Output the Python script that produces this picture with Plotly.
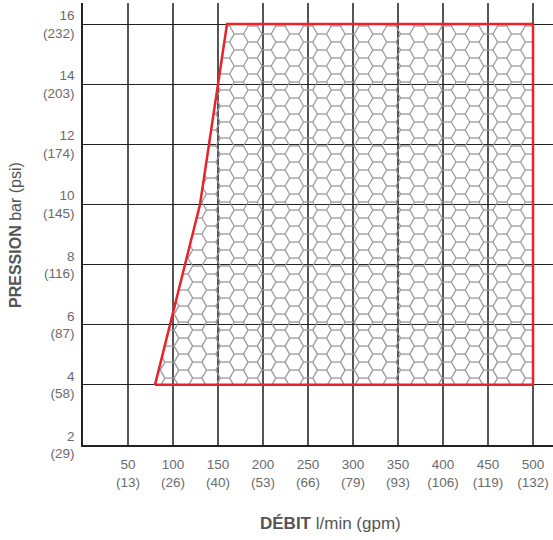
import math
import plotly.graph_objects as go

# ---------------- data ----------------
flow_lpm = [50, 100, 150, 200, 250, 300, 350, 400, 450, 500]
flow_gpm = [13, 26, 40, 53, 66, 79, 93, 106, 119, 132]
press_bar = [2, 4, 6, 8, 10, 12, 14, 16]
press_psi = [29, 58, 87, 116, 145, 174, 203, 232]

# operating zone outline (l/min, bar)
zone_flow = [80, 130, 160, 500, 500, 80]
zone_press = [4, 10, 16, 16, 4, 4]

# ---------------- layout constants ----------------
W, H = 553, 540
ML, MR, MT, MB = 83, 0, 3, 95
X_RANGE = [0, 522.2]
Y_RANGE = [2, 16.7]
FONT = "Liberation Sans, Arial, sans-serif"

# pixel scale of the plot area (used for the hexagon texture)
sx = (W - ML - MR) / (X_RANGE[1] - X_RANGE[0])
sy = (H - MT - MB) / (Y_RANGE[1] - Y_RANGE[0])


def to_data(px, py):
    return X_RANGE[0] + px / sx, Y_RANGE[1] - py / sy


# ---------------- hexagon texture clipped to the zone ----------------
def clip_convex(p0, p1, poly):
    """Cyrus-Beck clip of segment p0-p1 against a CCW convex polygon."""
    tE, tL = 0.0, 1.0
    dx, dy = p1[0] - p0[0], p1[1] - p0[1]
    n = len(poly)
    for k in range(n):
        vx, vy = poly[k]
        wx, wy = poly[(k + 1) % n]
        nx, ny = -(wy - vy), (wx - vx)  # inward normal for CCW
        a = nx * (p0[0] - vx) + ny * (p0[1] - vy)
        b = nx * dx + ny * dy
        if abs(b) < 1e-12:
            if a < 0:
                return None
        elif b > 0:
            tE = max(tE, -a / b)
        else:
            tL = min(tL, -a / b)
        if tE > tL:
            return None
    return (p0[0] + tE * dx, p0[1] + tE * dy), (p0[0] + tL * dx, p0[1] + tL * dy)


# split the (concave) zone into two convex pieces at its bend
bend = (zone_flow[1], zone_press[1])
right_x = zone_flow[3]
pieces = [
    [(zone_flow[0], zone_press[0]), (right_x, zone_press[0]), (right_x, bend[1]), bend],
    [bend, (right_x, bend[1]), (right_x, zone_press[2]), (zone_flow[2], zone_press[2])],
]

s = 9.24  # hexagon side in px
h = math.sqrt(3) * s
cx0, cy0 = 239.0, 119.0  # phase of the texture in plot px
hx, hy = [], []
for i in range(-25, 40):
    for j in range(-12, 35):
        cx = cx0 + i * 1.5 * s
        cy = cy0 + j * h + (i % 2) * h / 2
        verts = [(cx + s * math.cos(math.radians(60 * k)),
                  cy + s * math.sin(math.radians(60 * k))) for k in range(4)]
        for k in range(3):
            p0 = to_data(*verts[k])
            p1 = to_data(*verts[k + 1])
            for poly in pieces:
                c = clip_convex(p0, p1, poly)
                if c is not None:
                    (ax, ay), (bx, by) = c
                    if abs(ax - bx) + abs(ay - by) > 1e-9:
                        hx += [ax, bx, None]
                        hy += [ay, by, None]

fig = go.Figure()
fig.add_trace(go.Scatter(x=hx, y=hy, mode="lines",
                         line=dict(color="#9a9a9a", width=1.3),
                         hoverinfo="skip", showlegend=False))
fig.add_trace(go.Scatter(x=zone_flow, y=zone_press, mode="lines",
                         line=dict(color="#e8232a", width=2.5),
                         hoverinfo="skip", showlegend=False))

x_ticktext = [f"{a}<br>({b})" for a, b in zip(flow_lpm, flow_gpm)]
y_ticktext = [f"{a}<br>({b})" for a, b in zip(press_bar, press_psi)]

fig.update_layout(
    width=W, height=H,
    margin=dict(l=ML, r=MR, t=MT, b=MB, pad=0, autoexpand=False),
    paper_bgcolor="white", plot_bgcolor="white",
    font=dict(family=FONT, color="#6b6b6b", size=13.5),
    xaxis=dict(range=X_RANGE, tickvals=flow_lpm, ticktext=x_ticktext,
               showgrid=True, gridcolor="#555555", gridwidth=1.5,
               showline=True, linecolor="#222222", linewidth=1.5,
               ticks="", ticklabelstandoff=6, zeroline=False,
               automargin=False,
               tickfont=dict(family=FONT, size=13.5, color="#6b6b6b"),
               fixedrange=True),
    yaxis=dict(range=Y_RANGE, tickvals=press_bar, ticktext=y_ticktext,
               showgrid=True, gridcolor="#222222", gridwidth=1.3,
               showline=True, linecolor="#222222", linewidth=1.5,
               ticks="", ticklabelstandoff=4, zeroline=False,
               automargin=False,
               tickfont=dict(family=FONT, size=13.5, color="#6b6b6b"),
               fixedrange=True),
    annotations=[
        dict(text="<b>DÉBIT</b> l/min (gpm)", xref="paper", yref="paper",
             x=(330 - ML) / (W - ML - MR), y=(H - MB - 523) / (H - MT - MB),
             xanchor="center", yanchor="middle", showarrow=False,
             font=dict(family=FONT, size=17, color="#555555")),
        dict(text="<b>PRESSION</b> bar (psi)", xref="paper", yref="paper",
             x=(15 - ML) / (W - ML - MR), y=(H - MB - 235) / (H - MT - MB),
             xanchor="center", yanchor="middle", showarrow=False, textangle=-90,
             font=dict(family=FONT, size=16, color="#555555")),
    ],
)

fig.write_html("out.html",
               config={"displayModeBar": False},
               post_script="document.body.style.margin='0';document.body.style.padding='0';")
